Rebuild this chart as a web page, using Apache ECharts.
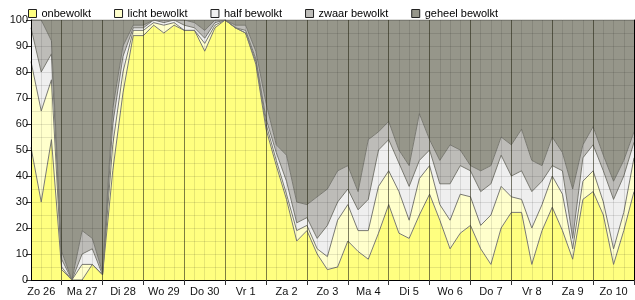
<!DOCTYPE html>
<html><head><meta charset="utf-8">
<script src="https://cdn.jsdelivr.net/npm/echarts@6/dist/echarts.min.js"></script>
<style>html,body{margin:0;padding:0;background:#fff}#c{width:635px;height:300px}</style>
</head><body><div id="c"></div>
<script>
const dayLabels = ['Zo 26','Ma 27','Di 28','Wo 29','Do 30','Vr 1','Za 2','Zo 3','Ma 4','Di 5','Wo 6','Do 7','Vr 8','Za 9','Zo 10'];
const hours = ['00','06','12','18'];
const seriesNames = ['onbewolkt','licht bewolkt','half bewolkt','zwaar bewolkt','geheel bewolkt'];

const onbewolkt = [51,30,54,4,0,0,6,2,42,72,94,94,98,95,98,96,96,88,97,100,97,95,83,58,44,31,15,19,10,4,5,15,11,8,18,29,18,16,25,33,23,12,18,21,12,6,20,26,26,6,19,28,19,8,31,34,25,6,19,34];
const lichtBewolkt = [33,35,23,1,0,6,0,0,10,8,2,2,1,3,1,0,0,3,1,0,0,0,1,2,2,2,4,2,2,5,18,14,8,11,18,13,16,7,14,11,6,11,15,11,9,19,16,6,5,14,10,12,14,4,7,8,5,6,7,13];
const halfBewolkt = [13,15,10,3,0,4,6,0,8,6,1,1,1,1,1,2,1,2,1,0,0,1,1,2,3,5,3,3,4,12,7,6,8,12,14,12,11,13,7,6,8,14,11,10,13,12,12,8,11,14,9,4,9,4,9,10,12,19,14,6];
const zwaarBewolkt = [3,20,5,3,0,9,4,1,6,4,1,1,0,1,0,2,2,3,1,0,1,2,3,6,3,10,8,5,16,14,12,9,7,23,7,7,5,8,18,4,9,15,6,2,8,7,7,12,16,12,6,11,7,19,5,7,6,7,6,4];
const geheelBewolkt = [0,0,8,89,100,81,84,97,34,10,2,2,0,0,0,0,1,4,0,0,2,2,12,32,48,52,70,71,68,65,58,56,66,46,43,39,50,56,36,46,54,48,50,56,58,56,45,48,42,54,56,45,51,65,48,41,52,62,54,43];

const fills = ['#FFFF80','#FFFFCC','#EFEFEF','#BDBCB8','#96968A'];
const values = [onbewolkt, lichtBewolkt, halfBewolkt, zwaarBewolkt, geheelBewolkt];

const categories = [];
dayLabels.forEach((d, di) => hours.forEach(h => { if (!(di === 0 && h === '00')) categories.push(d + ' ' + h); }));
categories.push('Ma 11 00');

const font = 'Liberation Sans, Arial, sans-serif';
const chart = echarts.init(document.getElementById('c'), null, {renderer: 'canvas'});
chart.setOption({
  animation: false,
  backgroundColor: '#fff',
  textStyle: {fontFamily: font},
  legend: {
    left: 23, top: 3, itemWidth: 8, itemHeight: 8, itemGap: 23, icon: 'rect',
    textStyle: {fontSize: 11, fontFamily: font, color: '#000'},
    data: seriesNames.map((n, k) => ({name: n, itemStyle: {color: fills[k], borderColor: '#222', borderWidth: 1}}))
  },
  grid: {left: 31, right: 1, top: 20, bottom: 20},
  xAxis: [{
    type: 'category', data: categories, boundaryGap: false, z: 5,
    axisLine: {show: true, lineStyle: {color: '#000', width: 1}},
    axisTick: {show: true, length: 5, interval: (i, v) => v.endsWith('00'), lineStyle: {color: '#333'}},
    axisLabel: {interval: (i, v) => v.endsWith('12'), formatter: v => v.slice(0, -3), fontSize: 11, color: '#111', margin: 6, fontFamily: font},
    splitLine: {show: true, interval: 0, lineStyle: {color: 'rgba(0,0,0,0.1)', width: 1}}
  }, {
    type: 'category', data: categories, boundaryGap: false, position: 'top', z: 5,
    axisLine: {show: true, lineStyle: {color: '#000', width: 1}},
    axisTick: {show: false}, axisLabel: {show: false},
    splitLine: {show: true, interval: (i, v) => v.endsWith('00'), lineStyle: {color: 'rgba(40,40,20,0.55)', width: 1}}
  }],
  yAxis: [{
    type: 'value', min: 0, max: 100, interval: 10, z: 5,
    axisLine: {show: true, lineStyle: {color: '#000', width: 1}},
    axisTick: {show: true, length: 5, lineStyle: {color: '#333'}},
    axisLabel: {fontSize: 11, color: '#111', margin: 3, fontFamily: font},
    splitLine: {show: true, lineStyle: {color: 'rgba(0,0,0,0.1)', width: 1}},
    minorTick: {show: false, splitNumber: 2},
    minorSplitLine: {show: true, lineStyle: {color: 'rgba(0,0,0,0.1)', width: 1}}
  }, {
    type: 'value', min: 0, max: 100, interval: 10, position: 'right', z: 5,
    axisLine: {show: true, lineStyle: {color: '#000', width: 1}},
    axisTick: {show: false}, axisLabel: {show: false}, splitLine: {show: false}
  }],
  series: seriesNames.map((n, k) => ({
    name: n, type: 'line', stack: 'total', data: values[k],
    xAxisIndex: 0, yAxisIndex: 0,
    showSymbol: false, symbol: 'none',
    itemStyle: {color: fills[k]},
    lineStyle: {color: '#7a7a72', width: 1},
    areaStyle: {color: fills[k], opacity: 1}
  }))
});
</script></body></html>
